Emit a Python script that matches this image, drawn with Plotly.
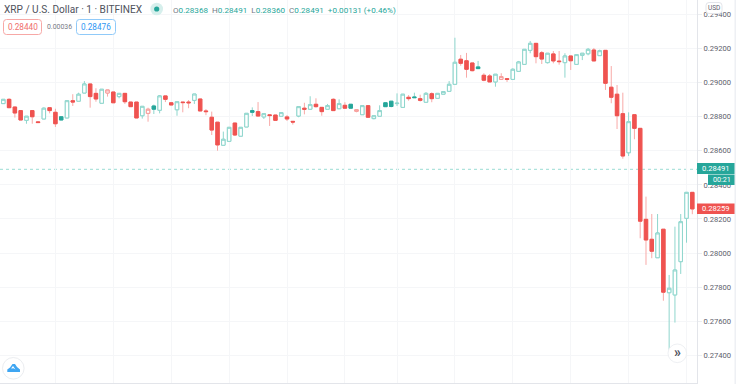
import plotly.graph_objects as go

# OHLC, one entry per 1-minute candle
open_ = [0.28876,0.28901,0.28856,0.28835,0.28778,0.28835,0.28769,0.28786,0.28852,0.28825,
0.28799,0.28792,0.28893,0.28890,0.28938,0.28991,0.28936,0.28878,0.28938,0.28944,
0.28917,0.28936,0.28885,0.28885,0.28805,0.28819,0.28862,0.28837,0.28921,0.28881,
0.28840,0.28885,0.28885,0.28895,0.28903,0.28833,0.28796,0.28767,0.28632,0.28655,
0.28762,0.28685,0.28739,0.28835,0.28829,0.28798,0.28810,0.28809,0.28802,0.28798,
0.28772,0.28803,0.28849,0.28843,0.28872,0.28854,0.28843,0.28901,0.28846,0.28866,
0.28872,0.28831,0.28811,0.28864,0.28788,0.28802,0.28881,0.28890,0.28876,0.28854,
0.28913,0.28915,0.28905,0.28884,0.28934,0.28907,0.28931,0.28948,0.28989,0.29136,
0.29127,0.29114,0.29091,0.29042,0.29038,0.29003,0.29018,0.29022,0.29018,0.29065,
0.29106,0.29188,0.29229,0.29174,0.29116,0.29167,0.29125,0.29116,0.29155,0.29106,
0.29159,0.29168,0.29190,0.29157,0.29188,0.28972,0.28931,0.28817,0.28588,0.28811,
0.28731,0.28198,0.28081,0.27973,0.28140,0.27768,0.27755,0.27950,0.28204,0.28356]
high = [0.28901,0.28907,0.28856,0.28835,0.28802,0.28835,0.28769,0.28854,0.28852,0.28846,
0.28799,0.28893,0.28931,0.28940,0.29008,0.28991,0.28966,0.28960,0.28956,0.28944,
0.28936,0.28936,0.28885,0.28885,0.28860,0.28852,0.28870,0.28926,0.28921,0.28881,
0.28887,0.28885,0.28897,0.28932,0.28903,0.28844,0.28829,0.28767,0.28712,0.28737,
0.28762,0.28737,0.28819,0.28854,0.28885,0.28817,0.28811,0.28809,0.28823,0.28809,
0.28772,0.28858,0.28881,0.28919,0.28907,0.28854,0.28874,0.28907,0.28901,0.28884,
0.28872,0.28840,0.28864,0.28864,0.28805,0.28866,0.28881,0.28890,0.28936,0.28931,
0.28926,0.28940,0.28928,0.28944,0.28942,0.28936,0.28946,0.29008,0.29262,0.29161,
0.29173,0.29114,0.29126,0.29054,0.29049,0.29048,0.29054,0.29022,0.29083,0.29126,
0.29194,0.29243,0.29229,0.29184,0.29171,0.29184,0.29184,0.29171,0.29155,0.29163,
0.29171,0.29202,0.29202,0.29192,0.29188,0.29096,0.28985,0.28940,0.28825,0.28811,
0.28731,0.28331,0.28229,0.28229,0.28140,0.27872,0.28155,0.28229,0.28356,0.28356]
low = [0.28876,0.28852,0.28794,0.28780,0.28758,0.28758,0.28765,0.28786,0.28819,0.28739,
0.28780,0.28792,0.28862,0.28890,0.28938,0.28852,0.28887,0.28878,0.28917,0.28881,
0.28907,0.28874,0.28858,0.28792,0.28788,0.28770,0.28815,0.28819,0.28885,0.28868,
0.28805,0.28825,0.28849,0.28874,0.28833,0.28808,0.28692,0.28600,0.28632,0.28655,
0.28686,0.28685,0.28739,0.28803,0.28803,0.28786,0.28745,0.28778,0.28802,0.28774,
0.28753,0.28796,0.28813,0.28840,0.28853,0.28805,0.28843,0.28835,0.28846,0.28849,
0.28849,0.28825,0.28811,0.28796,0.28784,0.28802,0.28858,0.28854,0.28862,0.28854,
0.28893,0.28911,0.28888,0.28884,0.28884,0.28907,0.28931,0.28948,0.28989,0.29098,
0.29028,0.29065,0.29081,0.29007,0.29003,0.28975,0.29018,0.29003,0.29018,0.29065,
0.29106,0.29171,0.29112,0.29108,0.29111,0.29112,0.29104,0.29028,0.29073,0.29106,
0.29131,0.29159,0.29126,0.29157,0.28956,0.28878,0.28727,0.28553,0.28569,0.28667,
0.28087,0.27931,0.27970,0.27973,0.27721,0.27427,0.27593,0.27878,0.28061,0.28228]
close = [0.28901,0.28852,0.28821,0.28780,0.28802,0.28799,0.28765,0.28849,0.28835,0.28758,
0.28780,0.28893,0.28885,0.28931,0.28991,0.28917,0.28903,0.28960,0.28956,0.28881,
0.28936,0.28887,0.28858,0.28792,0.28860,0.28843,0.28843,0.28921,0.28901,0.28868,
0.28887,0.28882,0.28881,0.28932,0.28833,0.28829,0.28721,0.28634,0.28667,0.28737,
0.28692,0.28737,0.28819,0.28825,0.28803,0.28817,0.28806,0.28778,0.28823,0.28786,
0.28768,0.28858,0.28843,0.28870,0.28858,0.28829,0.28864,0.28835,0.28876,0.28849,
0.28849,0.28840,0.28864,0.28796,0.28805,0.28835,0.28858,0.28859,0.28878,0.28931,
0.28905,0.28911,0.28895,0.28936,0.28905,0.28936,0.28946,0.28989,0.29118,0.29112,
0.29077,0.29069,0.29081,0.29013,0.29003,0.29048,0.29034,0.29018,0.29077,0.29120,
0.29194,0.29229,0.29151,0.29137,0.29171,0.29126,0.29122,0.29155,0.29127,0.29163,
0.29171,0.29194,0.29126,0.29186,0.28995,0.28913,0.28805,0.28569,0.28770,0.28731,
0.28187,0.28077,0.28011,0.28118,0.27771,0.27794,0.27901,0.28184,0.28356,0.28259]

minutes = list(range(len(close)))
grid_minutes = [9, 19, 29, 39, 49, 59, 68, 78, 88, 98, 108, 118]
price_ticks = [0.274, 0.276, 0.278, 0.280, 0.282, 0.284, 0.286, 0.288, 0.290, 0.292, 0.294]
last_trade = 0.28491
title_text = "XRP / U.S. Dollar · 1 · BITFINEX"
bid, spread, ask = "0.28440", "0.00036", "0.28476"
ohlc_labels = [("O", "0.28368"), ("H", "0.28491"), ("L", "0.28360"), ("C", "0.28491")]
change_text = "+0.00131 (+0.46%)"

W, H = 736, 384
PW, PH = 697, 383
TEAL, RED = "#26a69a", "#ef5350"
TEAL_LINE, RED_WICK = "#8fd6cd", "#f8a9a7"
GREY = "#5d606b"
FONT = "Roboto, sans-serif"

def fx(p): return p / PW
def fy(p): return 1 - p / PH

def rr(x0, y0, x1, y1, r):
    a, b, c, d = fx(x0), fx(x1), fy(y0), fy(y1)
    ax, ay = fx(r), r / PH
    return (f"M{a+ax},{c} L{b-ax},{c} Q{b},{c} {b},{c-ay} L{b},{d+ay} Q{b},{d} {b-ax},{d} "
            f"L{a+ax},{d} Q{a},{d} {a},{d+ay} L{a},{c-ay} Q{a},{c} {a+ax},{c} Z")

fig = go.Figure()

def style(c, f):
    return dict(line=dict(color=c, width=1), fillcolor=f)

groups = {(True, True): [], (True, False): [], (False, True): [], (False, False): []}
for i in minutes:
    prev = close[i - 1] if i else open_[i]
    groups[(close[i] >= prev, close[i] > open_[i])].append(i)

# wick layer: the true high/low, in the pale wick colour
for (rising, hollow), idx in groups.items():
    c = TEAL_LINE if rising else RED_WICK
    fig.add_trace(go.Candlestick(
        x=[minutes[i] for i in idx], open=[open_[i] for i in idx], high=[high[i] for i in idx],
        low=[low[i] for i in idx], close=[close[i] for i in idx],
        increasing=style(c, "rgba(0,0,0,0)"), decreasing=style(c, "rgba(0,0,0,0)"),
        showlegend=False, hoverinfo="skip"))
# body layer: open/close only
for (rising, hollow), idx in groups.items():
    solid = TEAL if rising else RED
    line = (TEAL_LINE if rising else "#f79a98") if hollow else solid
    fill = "#ffffff" if hollow else solid
    fig.add_trace(go.Candlestick(
        x=[minutes[i] for i in idx], open=[open_[i] for i in idx],
        high=[max(open_[i], close[i]) for i in idx], low=[min(open_[i], close[i]) for i in idx],
        close=[close[i] for i in idx],
        increasing=style(line, fill), decreasing=style(line, fill),
        showlegend=False, hoverinfo="skip"))

shapes = [
    dict(type="line", xref="paper", yref="y", x0=0, x1=1, y0=last_trade, y1=last_trade,
         line=dict(color="#9adcd4", width=1, dash="dot"), layer="below"),
]
def box(x0, y0, x1, y1, fill, line=None, r=0, lw=1):
    shapes.append(dict(type="path", xref="paper", yref="paper", path=rr(x0, y0, x1, y1, r) if r else
                       f"M{fx(x0)},{fy(y0)} L{fx(x1)},{fy(y0)} L{fx(x1)},{fy(y1)} L{fx(x0)},{fy(y1)} Z",
                       fillcolor=fill, line=dict(color=line or fill, width=lw if line else 0)))
def circle(cx, cy, r, fill, line=None):
    shapes.append(dict(type="circle", xref="paper", yref="paper", x0=fx(cx - r), x1=fx(cx + r),
                       y0=fy(cy + r), y1=fy(cy - r), fillcolor=fill,
                       line=dict(color=line or fill, width=1 if line else 0)))
def poly(points, fill):
    d = "M" + " L".join(f"{fx(a)},{fy(b)}" for a, b in points) + " Z"
    shapes.append(dict(type="path", xref="paper", yref="paper", path=d, fillcolor=fill, line=dict(width=0)))

circle(156.7, 9, 6.3, "#d6efec")
circle(156.7, 9, 2.6, TEAL)
box(3.5, 19.5, 41.5, 34.5, "#ffffff", "#f7a8a6", 3)
box(76.5, 19.5, 115.5, 34.5, "#ffffff", "#90caf9", 3)
box(706, 2.5, 722, 13.5, "#ffffff", "#e3e5ea", 3)
box(697, 163, 735, 174, TEAL)
box(708, 174.5, 735, 185, TEAL)
box(697, 203.5, 735, 214, RED)
box(734.5, 0, 736, 384, "#eef0f4")
circle(13.3, 368.3, 10.8, "#ffffff", "#ebedf0")
poly([(7.3, 372), (7.3, 369.5), (10, 367.5), (12.5, 364), (15, 364), (17, 367), (20, 369.5), (20, 372)], "#3fa6f2")
poly([(11, 368.5), (13, 366), (15.5, 369.5), (13.5, 368.3)], "#ffffff")
circle(677.3, 353.3, 9.3, "#ffffff", "#eef0f3")

ann = []
def text(x, y, s, size=10, color=GREY, anchor="left"):
    ann.append(dict(x=fx(x), y=fy(y), xref="paper", yref="paper", text=s, showarrow=False,
                    xanchor=anchor, yanchor="middle", font=dict(family=FONT, size=size, color=color),
                    borderpad=0, borderwidth=0))

text(4, 9.5, title_text, 10.1, "#4f525c")
ohlc_html = "  ".join(f'<span style="color:#777a85">{k}</span><span style="color:{TEAL}">{v}</span>'
                      for k, v in ohlc_labels)
text(172.5, 10, f'{ohlc_html}  <span style="color:{TEAL}">{change_text}</span>', 8.1)
text(22.5, 27, bid, 8.2, "#ef6f6c", "center")
text(59.5, 27, spread, 6.9, "#777a85", "center")
text(96, 27, ask, 8.2, "#2f96f3", "center")
text(714, 8.3, "USD", 6.5, GREY, "center")
text(716, 168.5, f"{last_trade:.5f}", 7.6, "#ffffff", "center")
text(721.5, 179.8, "00:21", 7.2, "#ffffff", "center")
text(716, 208.8, f"{close[-1]:.5f}", 7.6, "#ffffff", "center")
text(677.3, 352.3, "<b>»</b>", 14, "#4f525c", "center")

fig.update_layout(
    width=W, height=H, margin=dict(l=0, r=W - PW, t=0, b=H - PH - 0, pad=0),
    paper_bgcolor="#ffffff", plot_bgcolor="#ffffff", boxgap=0.15, boxmode="overlay",
    shapes=shapes, annotations=ann, showlegend=False, dragmode=False,
    font=dict(family=FONT, color=GREY),
    xaxis=dict(range=[-0.57, 119.81], tickmode="array", tickvals=grid_minutes, showticklabels=False,
               showgrid=True, gridcolor="#f5f6f8", gridwidth=1, zeroline=False, ticks="", automargin=False,
               rangeslider=dict(visible=False), showline=True, linecolor="#e3e5ea", linewidth=1),
    yaxis=dict(range=[0.27239, 0.29483], side="right", tickmode="array", tickvals=price_ticks, automargin=False,
               tickformat=".5f", showgrid=True, gridcolor="#f5f6f8", gridwidth=1, zeroline=False,
               ticks="outside", ticklen=4, tickcolor="#eceef1", tickfont=dict(family=FONT, size=7.6, color=GREY),
               showline=True, linecolor="#e3e5ea", linewidth=1),
)
fig.write_html("out.html", config=dict(displayModeBar=False, staticPlot=True),
               post_script="document.body.style.margin='0';document.documentElement.style.overflow='hidden';")
